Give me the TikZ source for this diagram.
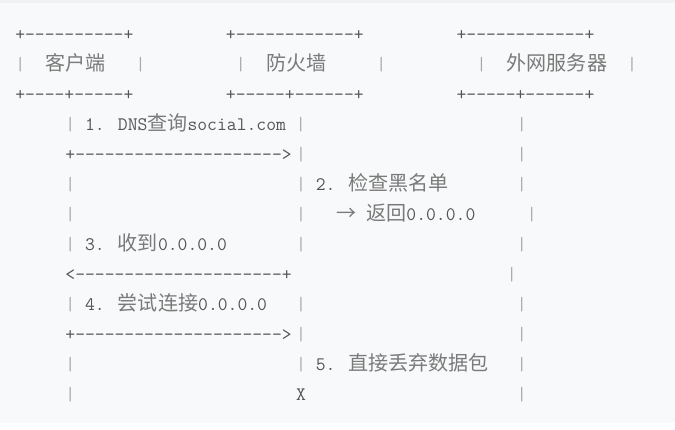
\documentclass[tikz,border=0pt]{standalone}
\usepackage{fontspec}
\newfontfamily\mono{Latin Modern Mono}
\newfontfamily\cjk{Noto Sans CJK SC}[Scale=1.05]
\definecolor{bg}{HTML}{F8F9FA}
\definecolor{topbar}{HTML}{F1F2F4}
\definecolor{ink}{HTML}{555555}
\definecolor{cjkink}{HTML}{7A7A7A}
\definecolor{barink}{HTML}{A8A8A8}
\newcommand\hy[1]{\foreach\i in {1,...,#1}{\mbox{-}}}
\newcommand\C[1]{{\cjk\color{cjkink}#1}}
\newcommand\B{{\color{barink}|}}
\newcommand\tx[5][]{\node[txt,#1] (#2) at ({15.3+10.03*#3},{40.35+30.05*(#4-1)}) {#5};}
\begin{document}
\begin{tikzpicture}[x=1pt,y=-1pt,
  txt/.style={anchor=base west, inner sep=0pt, outer sep=0pt, text=ink,
    font=\mono\fontsize{19.105}{24}\selectfont},
  rulerow/.style={yshift=0pt}]
\useasboundingbox (0,0) rectangle (675,429);
\fill[white] (0,0) rectangle (675,429);
\fill[bg] (0,0) rectangle (675,423);
\fill[topbar] (0,0) rectangle (675,3);
% boxes
\tx[rulerow]{b1t}{0}{1}{+\hy{10}+}
\tx[rulerow]{b2t}{21}{1}{+\hy{12}+}
\tx[rulerow]{b3t}{44}{1}{+\hy{12}+}
\tx{b1l}{0}{2}{\B}
\tx{b1n}{3}{2}{\C{客户端}}
\tx{b1r}{12}{2}{\B}
\tx{b2l}{22}{2}{\B}
\tx{b2n}{25}{2}{\C{防火墙}}
\tx{b2r}{36}{2}{\B}
\tx{b3l}{46}{2}{\B}
\tx{b3n}{49}{2}{\C{外网服务器}}
\tx{b3r}{61}{2}{\B}
\tx[rulerow]{b1b}{0}{3}{+\hy{4}+\hy{5}+}
\tx[rulerow]{b2b}{21}{3}{+\hy{5}+\hy{6}+}
\tx[rulerow]{b3b}{44}{3}{+\hy{5}+\hy{6}+}
% row 4
\tx{r4a}{5}{4}{\B{} 1. DNS\C{查询}social.com \B}
\tx{r4s}{50}{4}{\B}
% row 5
\tx[rulerow]{r5a}{5}{5}{+\hy{21}>}
\tx{r5f}{28}{5}{\B}
\tx{r5s}{50}{5}{\B}
% row 6
\tx{r6c}{5}{6}{\B}
\tx{r6a}{28}{6}{\B{} 2. \C{检查黑名单}}
\tx{r6s}{50}{6}{\B}
% row 7
\tx{r7c}{5}{7}{\B}
\tx{r7f}{28}{7}{\B}
\tx{r7arr}{32}{7}{\makebox[20.06pt][c]{\C{→}}}
\tx{r7a}{35}{7}{\C{返回}0.0.0.0}
\tx{r7s}{51}{7}{\B}
% row 8
\tx{r8a}{5}{8}{\B{} 3. \C{收到}0.0.0.0}
\tx{r8f}{28}{8}{\B}
\tx{r8s}{50}{8}{\B}
% row 9
\tx[rulerow]{r9a}{5}{9}{<\hy{21}+}
\tx{r9s}{49}{9}{\B}
% row 10
\tx{r10a}{5}{10}{\B{} 4. \C{尝试连接}0.0.0.0}
\tx{r10f}{28}{10}{\B}
\tx{r10s}{50}{10}{\B}
% row 11
\tx[rulerow]{r11a}{5}{11}{+\hy{21}>}
\tx{r11f}{28}{11}{\B}
\tx{r11s}{50}{11}{\B}
% row 12
\tx{r12c}{5}{12}{\B}
\tx{r12a}{28}{12}{\B{} 5. \C{直接丢弃数据包}}
\tx{r12s}{50}{12}{\B}
% row 13
\tx{r13c}{5}{13}{\B}
\tx{r13x}{28}{13}{X}
\tx{r13s}{50}{13}{\B}
\end{tikzpicture}
\end{document}
